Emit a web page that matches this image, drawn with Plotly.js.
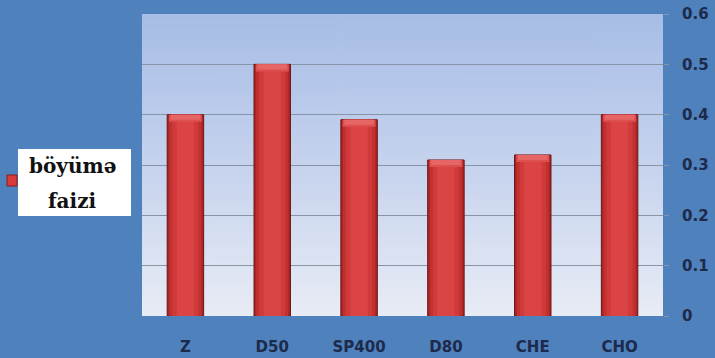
<!DOCTYPE html>
<html>
<head>
<meta charset="utf-8">
<script src="https://cdn.plot.ly/plotly-3.0.1.min.js"></script>
<style>
  html, body { margin: 0; padding: 0; background: #4f81bd; }
  #chart { width: 715px; height: 358px; }
</style>
</head>
<body>
<div id="chart"></div>
<script>
// Growth percentage per sample
const categories = ["Z", "D50", "SP400", "D80", "CHE", "CHO"];
const growthValues = [0.40, 0.50, 0.39, 0.31, 0.32, 0.40];
const yTickValues = [0, 0.1, 0.2, 0.3, 0.4, 0.5, 0.6];
const yTickLabels = ["0", "0.1", "0.2", "0.3", "0.4", "0.5", "0.6"];
const seriesName = ["böyümə", "faizi"];

// Vertical gradient for the plot area, rendered once to a canvas
function gradientImage() {
  const c = document.createElement("canvas");
  c.width = 4; c.height = 300;
  const g = c.getContext("2d");
  const grad = g.createLinearGradient(0, 0, 0, 300);
  grad.addColorStop(0, "#a7bde6");
  grad.addColorStop(0.5, "#c6d3ee");
  grad.addColorStop(1, "#e8ecf5");
  g.fillStyle = grad;
  g.fillRect(0, 0, 4, 300);
  return c.toDataURL("image/png");
}

// Layered bars give the cylinder-like shading of each column
const layers = [
  { width: 0.42, color: "#a82626", line: "#6e1616", lw: 1 },
  { width: 0.37, color: "#c23030", line: "rgba(0,0,0,0)", lw: 0 },
  { width: 0.30, color: "#d03a3a", line: "rgba(0,0,0,0)", lw: 0 },
  { width: 0.20, color: "#da4444", line: "rgba(0,0,0,0)", lw: 0 }
];
const traces = layers.map(l => ({
  type: "bar",
  x: categories,
  y: growthValues,
  width: l.width,
  marker: { color: l.color, line: { color: l.line, width: l.lw } },
  hoverinfo: "skip",
  showlegend: false
}));

// Soft light cap on top of each column
const capSteps = [
  { h: 0.014, w: 0.38, color: "#dc5050" },
  { h: 0.010, w: 0.34, color: "#e66666" }
];
capSteps.forEach(s => traces.push({
  type: "bar",
  x: categories,
  y: growthValues.map(() => s.h),
  base: growthValues.map(v => v - s.h),
  width: s.w,
  marker: { color: s.color, line: { width: 0 } },
  hoverinfo: "skip",
  showlegend: false
}));

const labelFont = { family: "DejaVu Sans", size: 15, color: "#1d2a4a", weight: "bold" };

const layout = {
  width: 715,
  height: 358,
  margin: { l: 142, r: 52, t: 14, b: 42 },
  paper_bgcolor: "#4f81bd",
  plot_bgcolor: "rgba(0,0,0,0)",
  barmode: "overlay",
  showlegend: false,
  images: [{
    source: gradientImage(),
    xref: "paper", yref: "paper",
    x: 0, y: 1, sizex: 1, sizey: 1,
    xanchor: "left", yanchor: "top",
    sizing: "stretch", layer: "below"
  }],
  xaxis: {
    type: "category",
    tickfont: labelFont,
    showgrid: false,
    zeroline: false,
    showline: false,
    ticks: "",
    ticklabelstandoff: 20,
    fixedrange: true
  },
  yaxis: {
    side: "right",
    range: [0, 0.6],
    tickvals: yTickValues,
    ticktext: yTickLabels,
    tickfont: labelFont,
    showgrid: true,
    gridcolor: "#8994a6",
    gridwidth: 1,
    zeroline: false,
    showline: false,
    ticks: "outside",
    ticklen: 5,
    tickcolor: "#8994a6",
    ticklabelstandoff: 10,
    fixedrange: true
  },
  shapes: [
    // legend box
    { type: "rect", xref: "paper", yref: "paper", layer: "above",
      x0: -124 / 521, x1: -11 / 521, y0: (316 - 216) / 302, y1: (316 - 149) / 302,
      fillcolor: "#ffffff", line: { width: 0 } },
    // legend swatch
    { type: "rect", xref: "paper", yref: "paper", layer: "above",
      x0: -135 / 521, x1: -125 / 521, y0: (316 - 186) / 302, y1: (316 - 175) / 302,
      fillcolor: "#d63b3b", line: { color: "#8a1c1c", width: 1 } }
  ],
  annotations: [
    { xref: "paper", yref: "paper", x: -70 / 521, y: (316 - 166) / 302,
      text: seriesName[0], showarrow: false, xanchor: "center", yanchor: "middle",
      font: { family: "DejaVu Serif", size: 20, color: "#111111", weight: "bold" } },
    { xref: "paper", yref: "paper", x: -70 / 521, y: (316 - 201) / 302,
      text: seriesName[1], showarrow: false, xanchor: "center", yanchor: "middle",
      font: { family: "DejaVu Serif", size: 20, color: "#111111", weight: "bold" } }
  ]
};

Plotly.newPlot("chart", traces, layout, { displayModeBar: false, staticPlot: true });
</script>
</body>
</html>
